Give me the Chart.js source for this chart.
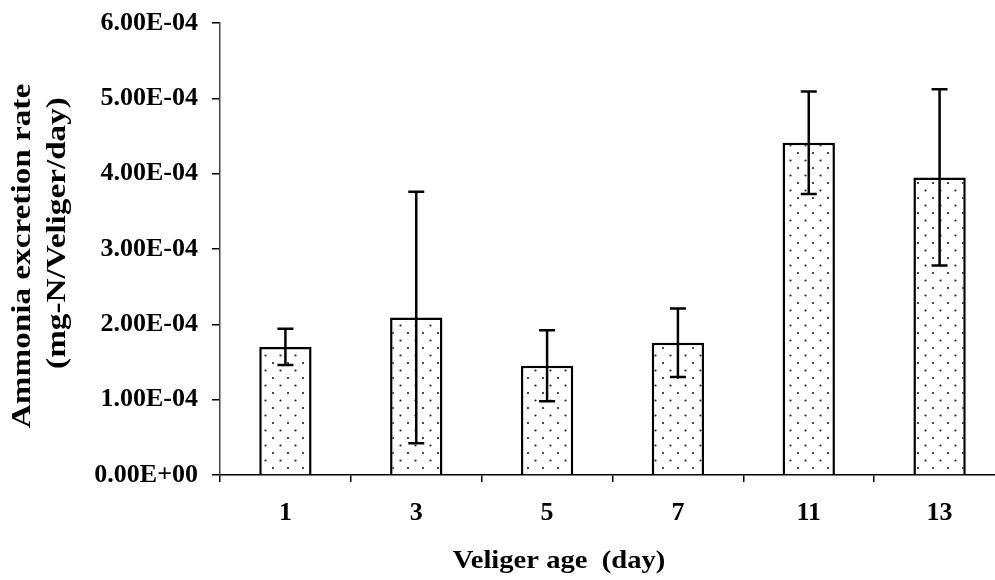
<!DOCTYPE html>
<html>
<head>
<meta charset="utf-8">
<script src="https://cdn.jsdelivr.net/npm/chart.js@4.4.1/dist/chart.umd.min.js"></script>
<style>
  html, body { margin: 0; padding: 0; background: #fff; overflow: hidden; }
  #chart { display: block; }
</style>
</head>
<body>
<canvas id="chart" width="1010" height="580"></canvas>
<script>
// veliger age (days) and mean ammonia excretion rate with SD
const ages = ['1', '3', '5', '7', '11', '13'];
const rates = [1.70e-4, 2.09e-4, 1.45e-4, 1.755e-4, 4.41e-4, 3.95e-4];
const errors = [0.24e-4, 1.67e-4, 0.47e-4, 0.455e-4, 0.68e-4, 1.17e-4];
const yTickLabels = ['0.00E+00', '1.00E-04', '2.00E-04', '3.00E-04', '4.00E-04', '5.00E-04', '6.00E-04'];

const FONT = '"Liberation Serif", "Times New Roman", serif';

// dotted fill like the excel pattern
function dotPattern() {
  const tile = document.createElement('canvas');
  tile.width = 15;
  tile.height = 15;
  const t = tile.getContext('2d');
  t.fillStyle = '#fff';
  t.fillRect(0, 0, 15, 15);
  t.fillStyle = '#222';
  t.beginPath();
  t.arc(3, 3, 1.1, 0, Math.PI * 2);
  t.arc(10.5, 10.5, 1.1, 0, Math.PI * 2);
  t.fill();
  return t.createPattern(tile, 'repeat');
}

const errorBars = {
  id: 'errorBars',
  afterDatasetsDraw(chart) {
    const { ctx, scales: { x, y } } = chart;
    ctx.save();
    ctx.strokeStyle = '#000';
    ctx.lineWidth = 2.5;
    rates.forEach((v, i) => {
      const px = x.getPixelForValue(i);
      const top = y.getPixelForValue(v + errors[i]);
      const bot = y.getPixelForValue(v - errors[i]);
      ctx.beginPath();
      ctx.moveTo(px, top);
      ctx.lineTo(px, bot);
      ctx.moveTo(px - 8, top);
      ctx.lineTo(px + 8, top);
      ctx.moveTo(px - 8, bot);
      ctx.lineTo(px + 8, bot);
      ctx.stroke();
    });
    ctx.restore();
  }
};

// axis titles (the originals are a bit stretched along the text)
const axisTitles = {
  id: 'axisTitles',
  afterDraw(chart) {
    const { ctx, chartArea } = chart;
    ctx.save();
    ctx.fillStyle = '#000';
    ctx.textAlign = 'center';
    ctx.textBaseline = 'middle';

    ctx.font = `bold 26px ${FONT}`;
    ctx.save();
    ctx.translate(chartArea.left + 339, 561);
    ctx.scale(1.1, 1);
    ctx.fillText('Veliger age  (day)', 0, 0);
    ctx.restore();

    ctx.font = `bold 27px ${FONT}`;
    ctx.save();
    ctx.translate(23, 256);
    ctx.rotate(-Math.PI / 2);
    ctx.scale(1.23, 1);
    ctx.fillText('Ammonia excretion rate', 0, 0);
    ctx.restore();

    ctx.save();
    ctx.translate(58, 233);
    ctx.rotate(-Math.PI / 2);
    ctx.scale(1.23, 1);
    ctx.fillText('(mg-N/Veliger/day)', 0, 0);
    ctx.restore();

    ctx.restore();
  }
};

new Chart(document.getElementById('chart'), {
  type: 'bar',
  data: {
    labels: ages,
    datasets: [{
      data: rates,
      backgroundColor: dotPattern(),
      borderColor: '#000',
      borderWidth: 2.5,
      barPercentage: 0.4,
      categoryPercentage: 1.0
    }]
  },
  options: {
    responsive: false,
    animation: false,
    layout: { padding: { top: 23, right: 5, left: 0, bottom: 0 } },
    plugins: { legend: { display: false }, tooltip: { enabled: false } },
    scales: {
      x: {
        afterFit: s => { s.height = 105; },
        border: { color: '#000', width: 1.5 },
        grid: { drawOnChartArea: false, drawTicks: true, tickLength: 7, color: '#000', lineWidth: 1.5 },
        ticks: { color: '#000', padding: 16, font: { family: FONT, size: 26, weight: 'bold' } }
      },
      y: {
        min: 0,
        max: 6e-4,
        afterFit: s => { s.width = 220; s.paddingTop = 0; s.paddingBottom = 0; },
        afterBuildTicks: s => { s.ticks = yTickLabels.map((_, i) => ({ value: i * 1e-4 })); },
        border: { color: '#444', width: 1.5 },
        grid: { drawOnChartArea: false, drawTicks: true, tickLength: 8, color: '#000', lineWidth: 1.5 },
        ticks: {
          color: '#000',
          padding: 14,
          font: { family: FONT, size: 26, weight: 'bold' },
          callback: (v, i) => yTickLabels[i]
        }
      }
    }
  },
  plugins: [errorBars, axisTitles]
});
</script>
</body>
</html>
